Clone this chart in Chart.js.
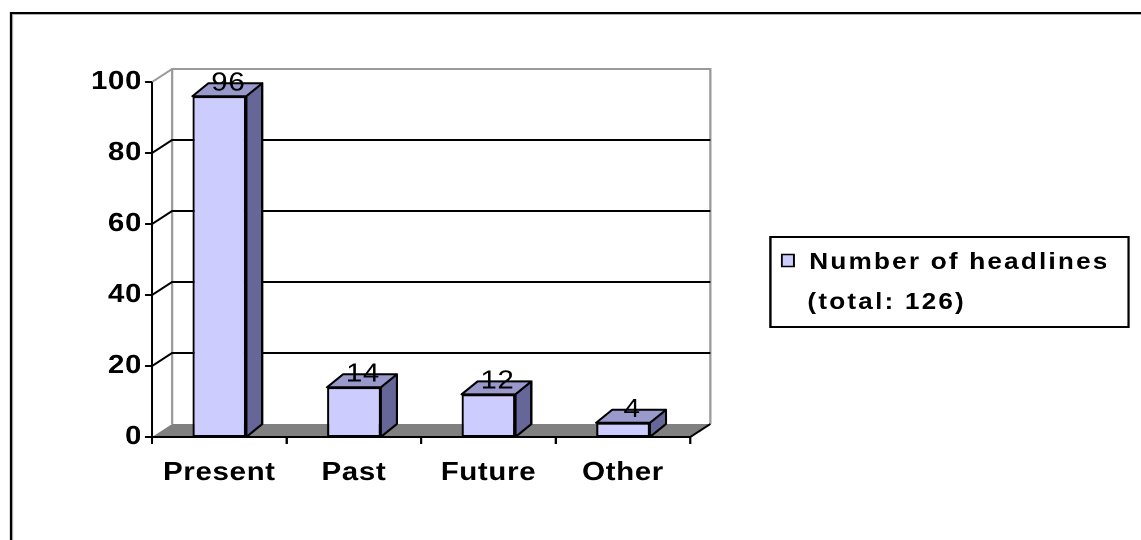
<!DOCTYPE html>
<html>
<head>
<meta charset="utf-8">
<script src="https://cdn.jsdelivr.net/npm/chart.js@4/dist/chart.umd.min.js"></script>
<style>
  html, body { margin: 0; padding: 0; background: #ffffff; overflow: hidden; }
  #wrap { position: relative; height: 540px; transform-origin: 0 0; }
</style>
</head>
<body>
<div id="wrap"><canvas id="c"></canvas></div>
<script>
// ---- data ----
const categories = ['Present', 'Past', 'Future', 'Other'];
const headlines = [96, 14, 12, 4];
const yTicks = [0, 20, 40, 60, 80, 100];
const legendLines = ['Number of headlines', '(total: 126)'];

// ---- style ----
const S = 1.13;                        // horizontal stretch of the original picture
const X = v => v / S;                  // screen x -> canvas x
const FONT = "'Liberation Sans', Arial, sans-serif";
const WALL_DX = X(20), WALL_DY = 13;   // depth of back wall
const BAR_DX = X(16), BAR_DY = 13;     // depth of the bars
const SPACING = '0.6px';

const wrap = document.getElementById('wrap');
wrap.style.width = X(1141) + 'px';
wrap.style.transform = 'scaleX(' + S + ')';

function setSpacing(chart, s) {
  if ('letterSpacing' in chart.ctx) chart.ctx.letterSpacing = s || SPACING;
}

const threeD = {
  id: 'threeD',
  beforeLayout(chart) { setSpacing(chart); },
  beforeDraw(chart) {
    setSpacing(chart);
    const ctx = chart.ctx;
    ctx.save();
    // outer frame (top and left)
    ctx.strokeStyle = '#000';
    ctx.lineWidth = 2;
    ctx.beginPath();
    ctx.moveTo(X(11), 541); ctx.lineTo(X(11), 13); ctx.lineTo(X(1145), 13);
    ctx.stroke();
    ctx.strokeStyle = '#b0b0b0';
    ctx.lineWidth = 1;
    ctx.beginPath();
    ctx.moveTo(X(12.6), 541); ctx.lineTo(X(12.6), 14.5); ctx.lineTo(X(1145), 14.5);
    ctx.stroke();
    ctx.restore();
  },
  beforeDatasetsDraw(chart) {
    const ctx = chart.ctx;
    const xs = chart.scales.x, ys = chart.scales.y;
    const x0 = xs.left, x1 = xs.right;
    const y0 = ys.getPixelForValue(0), yTop = ys.getPixelForValue(100);
    ctx.save();
    // floor
    ctx.fillStyle = '#808080';
    ctx.beginPath();
    ctx.moveTo(x0, y0); ctx.lineTo(x1, y0);
    ctx.lineTo(x1 + WALL_DX, y0 - WALL_DY); ctx.lineTo(x0 + WALL_DX, y0 - WALL_DY);
    ctx.closePath(); ctx.fill();
    // back wall frame (gray)
    ctx.strokeStyle = '#9a9a9a';
    ctx.lineWidth = 2;
    ctx.beginPath();
    ctx.moveTo(x0 + WALL_DX, y0 - WALL_DY); ctx.lineTo(x0 + WALL_DX, yTop - WALL_DY);
    ctx.lineTo(x1 + WALL_DX, yTop - WALL_DY); ctx.lineTo(x1 + WALL_DX, y0 - WALL_DY);
    ctx.stroke();
    ctx.beginPath();
    ctx.moveTo(x0, yTop); ctx.lineTo(x0 + WALL_DX, yTop - WALL_DY);
    ctx.stroke();
    // gridlines on back wall and left wall
    ctx.strokeStyle = '#000';
    ctx.lineWidth = 2;
    yTicks.forEach(v => {
      if (v === 0 || v === 100) return;
      const y = ys.getPixelForValue(v);
      ctx.beginPath();
      ctx.moveTo(x0, y); ctx.lineTo(x0 + WALL_DX, y - WALL_DY);
      ctx.lineTo(x1 + WALL_DX, y - WALL_DY);
      ctx.stroke();
    });
    // right floor edge
    ctx.beginPath();
    ctx.moveTo(x1, y0); ctx.lineTo(x1 + WALL_DX, y0 - WALL_DY);
    ctx.stroke();
    // front value axis
    ctx.beginPath();
    ctx.moveTo(x0, yTop); ctx.lineTo(x0, y0 + 1);
    yTicks.forEach(v => {
      const y = ys.getPixelForValue(v);
      ctx.moveTo(x0 - X(7), y); ctx.lineTo(x0, y);
    });
    ctx.stroke();
    // category axis
    ctx.beginPath();
    ctx.moveTo(x0 - X(7), y0); ctx.lineTo(x1, y0);
    const n = categories.length;
    for (let k = 0; k <= n; k++) {
      const x = x0 + k * (x1 - x0) / n;
      ctx.moveTo(x, y0); ctx.lineTo(x, y0 + 7);
    }
    ctx.stroke();
    ctx.restore();
  },
  afterDatasetsDraw(chart) {
    const ctx = chart.ctx;
    const meta = chart.getDatasetMeta(0);
    const ys = chart.scales.y;
    const yb = ys.getPixelForValue(0);
    ctx.save();
    ctx.lineWidth = 2;
    ctx.strokeStyle = '#000';
    ctx.lineJoin = 'round';
    meta.data.forEach((bar, i) => {
      const left = bar.x - bar.width / 2, right = bar.x + bar.width / 2, top = bar.y;
      // side face
      ctx.fillStyle = '#666699';
      ctx.beginPath();
      ctx.moveTo(right, top); ctx.lineTo(right + BAR_DX, top - BAR_DY);
      ctx.lineTo(right + BAR_DX, yb - BAR_DY); ctx.lineTo(right, yb);
      ctx.closePath(); ctx.fill(); ctx.stroke();
      // top face
      ctx.fillStyle = '#9999cc';
      ctx.beginPath();
      ctx.moveTo(left, top); ctx.lineTo(left + BAR_DX, top - BAR_DY);
      ctx.lineTo(right + BAR_DX, top - BAR_DY); ctx.lineTo(right, top);
      ctx.closePath(); ctx.fill(); ctx.stroke();
      // value label
      ctx.fillStyle = '#000';
      ctx.font = '26px ' + FONT;
      ctx.textAlign = 'center';
      ctx.textBaseline = 'middle';
      ctx.fillText(String(headlines[i]), bar.x + BAR_DX / 2 + X(1), top - 13);
    });
    ctx.restore();
  },
  afterDraw(chart) {
    const ctx = chart.ctx;
    ctx.save();
    setSpacing(chart, '2px');
    // legend box
    ctx.fillStyle = '#fff';
    ctx.strokeStyle = '#000';
    ctx.lineWidth = 2;
    ctx.beginPath();
    ctx.rect(X(770), 237, X(358), 90);
    ctx.fill(); ctx.stroke();
    // swatch
    ctx.fillStyle = '#ccccff';
    ctx.lineWidth = 1.5;
    ctx.beginPath();
    ctx.rect(X(781.5), 254.5, X(12), 12);
    ctx.fill(); ctx.stroke();
    // legend text
    ctx.fillStyle = '#000';
    ctx.font = 'bold 23px ' + FONT;
    ctx.textAlign = 'left';
    ctx.textBaseline = 'alphabetic';
    ctx.fillText(legendLines[0], X(809), 269);
    ctx.fillText(legendLines[1], X(807), 309);
    ctx.restore();
  }
};

new Chart(document.getElementById('c'), {
  type: 'bar',
  data: {
    labels: categories,
    datasets: [{
      label: legendLines.join(' '),
      data: headlines,
      backgroundColor: '#ccccff',
      borderColor: '#000',
      borderWidth: 2,
      borderSkipped: false,
      categoryPercentage: 1.0,
      barPercentage: 0.4
    }]
  },
  options: {
    responsive: true,
    maintainAspectRatio: false,
    animation: false,
    devicePixelRatio: 2,
    layout: { padding: { top: 82, right: X(451), bottom: 0, left: 0 } },
    plugins: {
      legend: { display: false },
      tooltip: { enabled: false }
    },
    scales: {
      x: {
        offset: true,
        grid: { display: false, drawTicks: false },
        border: { display: false },
        ticks: {
          color: '#000',
          padding: 20,
          font: { family: FONT, size: 26, weight: 'bold' }
        },
        afterFit(scale) { scale.height = 103; }
      },
      y: {
        min: 0,
        max: 100,
        afterBuildTicks(scale) { scale.ticks = yTicks.map(v => ({ value: v })); },
        grid: { display: false, drawTicks: false },
        border: { display: false },
        ticks: {
          color: '#000',
          padding: X(10),
          font: { family: FONT, size: 26, weight: 'bold' }
        },
        afterFit(scale) { scale.width = X(152); }
      }
    }
  },
  plugins: [threeD]
});
</script>
</body>
</html>
